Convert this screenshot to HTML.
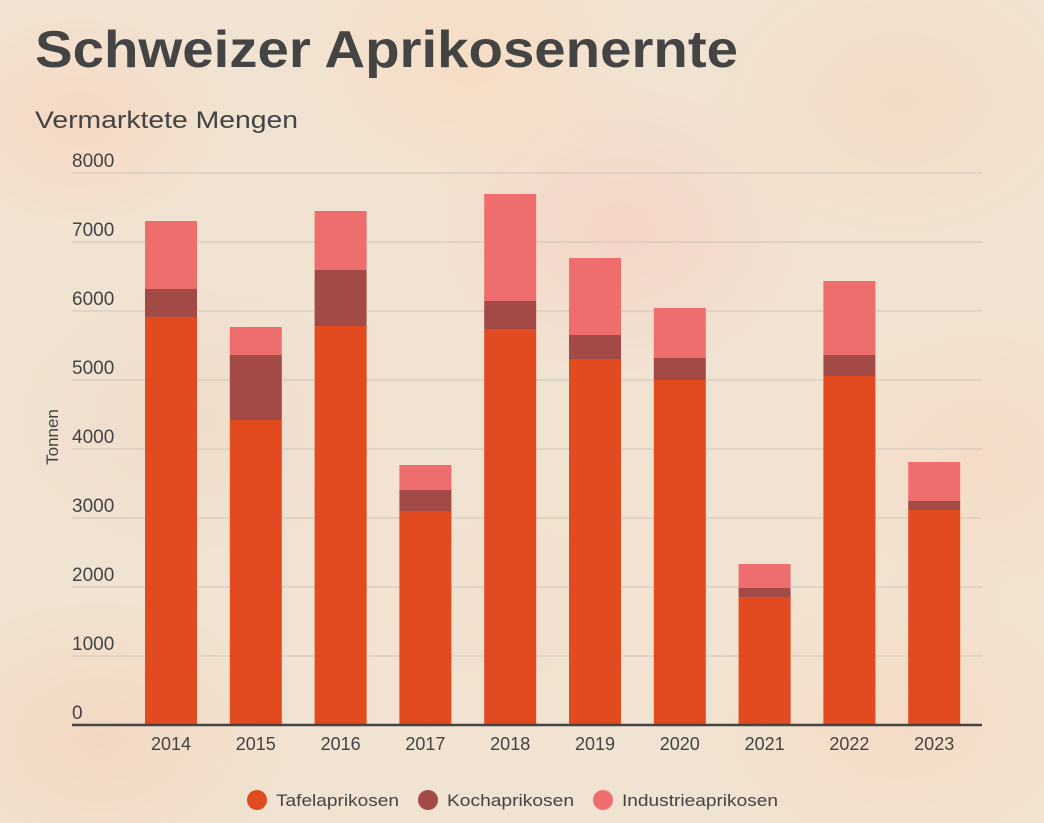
<!DOCTYPE html>
<html><head><meta charset="utf-8"><style>
html,body{margin:0;padding:0}
body{width:1044px;height:823px;overflow:hidden;position:relative;font-family:"Liberation Sans",sans-serif;
background:#f1e3d2;}
.bg{position:absolute;inset:0;background:
radial-gradient(ellipse 160px 120px at 80px 120px,#f6d9c4,transparent),
radial-gradient(ellipse 180px 140px at 470px 60px,#f7ddc4,transparent),
radial-gradient(ellipse 200px 150px at 900px 100px,#f3dcc6,transparent),
radial-gradient(ellipse 200px 160px at 620px 230px,#f5d5c8,transparent),
radial-gradient(ellipse 220px 160px at 200px 420px,#f0dccb,transparent),
radial-gradient(ellipse 200px 160px at 980px 460px,#f4dcc8,transparent),
radial-gradient(ellipse 220px 170px at 500px 600px,#f3e0cf,transparent),
radial-gradient(ellipse 220px 160px at 900px 720px,#f5dcc6,transparent),
radial-gradient(ellipse 200px 150px at 100px 740px,#f2d8c2,transparent);}
</style></head><body>
<div class="bg"></div>
<svg width="1044" height="823" style="position:absolute;left:0;top:0" font-family="Liberation Sans, sans-serif">
<text x="35" y="67" font-size="52" font-weight="bold" fill="#444" textLength="703" lengthAdjust="spacingAndGlyphs">Schweizer Aprikosenernte</text>
<text x="35" y="128" font-size="24" fill="#444" textLength="263" lengthAdjust="spacingAndGlyphs">Vermarktete Mengen</text>
<g stroke="#cfc6bd" stroke-width="1">
<line x1="72" x2="982" y1="173" y2="173"/><line x1="72" x2="982" y1="242" y2="242"/>
<line x1="72" x2="982" y1="311" y2="311"/><line x1="72" x2="982" y1="380" y2="380"/>
<line x1="72" x2="982" y1="449" y2="449"/><line x1="72" x2="982" y1="518" y2="518"/>
<line x1="72" x2="982" y1="587" y2="587"/><line x1="72" x2="982" y1="656" y2="656"/>
</g>
<g font-size="19" fill="#444">
<text x="72" y="167">8000</text><text x="72" y="236">7000</text><text x="72" y="305">6000</text>
<text x="72" y="374">5000</text><text x="72" y="443">4000</text><text x="72" y="512">3000</text>
<text x="72" y="581">2000</text><text x="72" y="650">1000</text><text x="72" y="719">0</text>
</g>
<text transform="translate(58,437) rotate(-90)" font-size="17" fill="#444" text-anchor="middle">Tonnen</text>
<g id="bars"></g>
<line x1="72" x2="982" y1="725" y2="725" stroke="#444" stroke-width="2.5"/>
<g font-size="18" fill="#444" text-anchor="middle" id="xl"></g>
<g font-size="17" fill="#444">
<circle cx="257" cy="800" r="10" fill="#e24a1f"/><text x="276" y="806" textLength="123" lengthAdjust="spacingAndGlyphs">Tafelaprikosen</text>
<circle cx="428" cy="800" r="10" fill="#a34a47"/><text x="447" y="806" textLength="127" lengthAdjust="spacingAndGlyphs">Kochaprikosen</text>
<circle cx="603" cy="800" r="10" fill="#ee6e6e"/><text x="622" y="806" textLength="156" lengthAdjust="spacingAndGlyphs">Industrieaprikosen</text>
</g>
</svg>
<script>
var d=[[2014,317,289,221],[2015,420,355,327],[2016,326,270,211],[2017,511,490,465],[2018,329,301,194],[2019,359,335,258],[2020,380,358,308],[2021,597,588,564],[2022,376,355,281],[2023,510,501,462]];
var g=document.getElementById('bars'),xl=document.getElementById('xl'),s='',t='';
d.forEach(function(r,i){var c=171+i*84.8,x=c-26;
s+='<rect x="'+x+'" y="'+r[3]+'" width="52" height="'+(r[2]-r[3])+'" fill="#ee6e6e"/>';
s+='<rect x="'+x+'" y="'+r[2]+'" width="52" height="'+(r[1]-r[2])+'" fill="#a34a47"/>';
s+='<rect x="'+x+'" y="'+r[1]+'" width="52" height="'+(725-r[1])+'" fill="#e24a1f"/>';
t+='<text x="'+c+'" y="750">'+r[0]+'</text>';});
g.innerHTML=s;xl.innerHTML=t;
</script>
</body></html>
